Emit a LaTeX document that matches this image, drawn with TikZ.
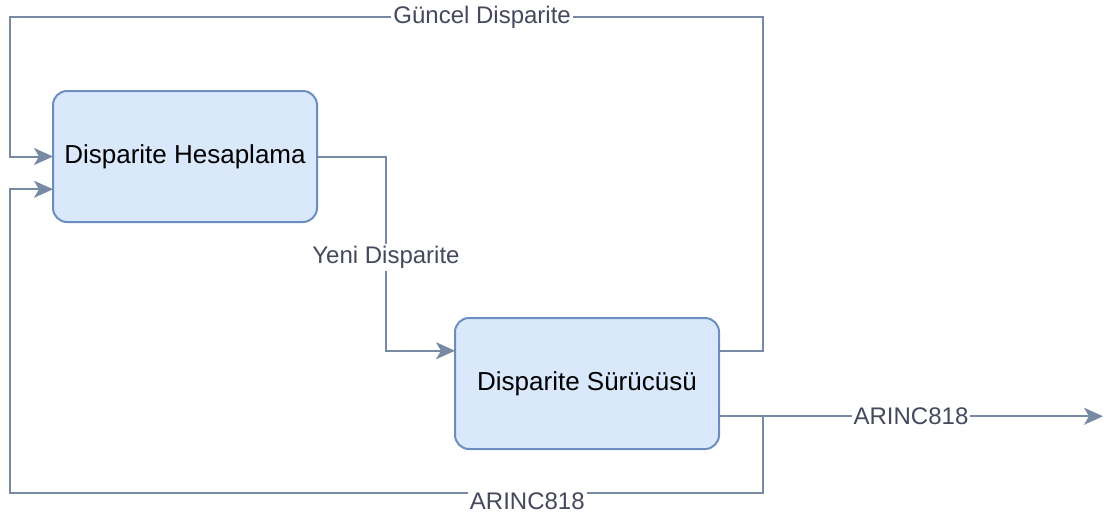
\documentclass[tikz,border=0pt]{standalone}
\usepackage{fontspec}
\setmainfont{Liberation Sans}
\usetikzlibrary{arrows.meta,positioning,calc}
\definecolor{dispblue}{HTML}{DAE8FC}
\definecolor{dispedge}{HTML}{6C8EBF}
\definecolor{flowgray}{HTML}{788AA3}
\definecolor{flowtext}{HTML}{46495D}

\begin{document}
\begin{tikzpicture}[
  x=0.5pt,y=-0.5pt,
  box/.style={draw=dispedge,line width=1pt,rounded corners=7pt,fill=dispblue,align=center,
    minimum width=132pt,minimum height=65.5pt,inner sep=0pt,outer sep=0pt,
    font=\fontsize{13}{15}\selectfont},
  arr/.style={-{Stealth[length=9.5pt,width=8.5pt,inset=2.5pt]},line width=1pt,draw=flowgray},
  lbl/.style={fill=white,text=flowtext,inner sep=1pt,font=\fontsize{12}{14}\selectfont}
]
\useasboundingbox (0,0) rectangle (1104,515);
\node[box] (hesap) at (185,156.5) {Disparite Hesaplama};
\node[box,below right=48pt and 69pt of hesap] (surucu) {Disparite Sürücüsü};
% ports on the box sides
\coordinate (hIn1) at ($(hesap.north west)!0.5!(hesap.south west)$);
\coordinate (hIn2) at ($(hesap.north west)!0.75!(hesap.south west)$);
\coordinate (hOut) at ($(hesap.north east)!0.5!(hesap.south east)$);
\coordinate (sIn1) at ($(surucu.north west)!0.25!(surucu.south west)$);
\coordinate (sOut1) at ($(surucu.north east)!0.25!(surucu.south east)$);
\coordinate (sOut2) at ($(surucu.north east)!0.75!(surucu.south east)$);
% bends of the loops
\coordinate (tr) at (763,17);
\coordinate (tl) at (10,17);
\coordinate (br) at (763,493);
\coordinate (bl) at (10,493);
\coordinate (yk) at (386,0);
\coordinate (out) at (1103,0);
\draw[arr] (sOut1) -| (tr) -- node[lbl,pos=.373] (guncel) {Güncel Disparite} (tl) |- (hIn1);
\draw[arr] (hOut) -| node[lbl,pos=.76] (yeni) {Yeni Disparite} (yk |- sIn1) -- (sIn1);
\draw[arr] (sOut2) -| (br) -- node[lbl,pos=.313,yshift=-4pt] (arincB) {ARINC818} (bl) |- (hIn2);
\draw[arr] (sOut2) -- node[lbl,pos=.5] (arincO) {ARINC818} (out |- sOut2);
\end{tikzpicture}
\end{document}
